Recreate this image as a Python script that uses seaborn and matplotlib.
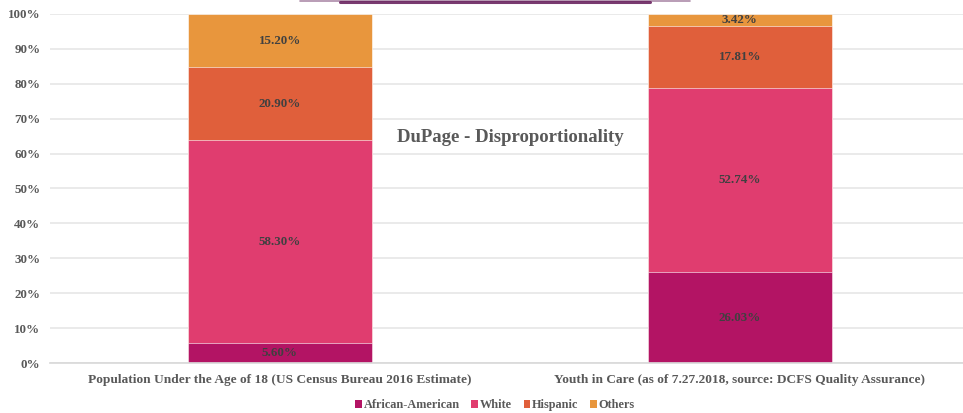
import matplotlib
matplotlib.use("Agg")
import matplotlib.pyplot as plt
import seaborn as sns
import numpy as np
import pandas as pd
from matplotlib.lines import Line2D
from matplotlib.patches import Patch

categories = ["Population Under the Age of 18 (US Census Bureau 2016 Estimate)",
              "Youth in Care (as of 7.27.2018, source: DCFS Quality Assurance)"]
series_names = ["African-American", "White", "Hispanic", "Others"]
african_american = [5.60, 26.03]
white = [58.30, 52.74]
hispanic = [20.90, 17.81]
others = [15.20, 3.42]
colors = ["#B31464", "#E03D6F", "#E05F3B", "#E8963D"]
title = "DuPage - Disproportionality"

sns.set_theme(style="white")
plt.rcParams['font.family'] = ['Liberation Serif', 'DejaVu Serif']

fig = plt.figure(figsize=(9.63, 4.13), dpi=100)
ax = fig.add_axes([50/963, 50/413, 913/963, 349/413])

vals = [african_american, white, hispanic, others]
cum = np.cumsum(np.array(vals), axis=0) / 100.0
# draw from top (largest cumulative) down so each layer shows its segment
for i in range(len(series_names) - 1, -1, -1):
    df = pd.DataFrame({"cat": categories, "top": cum[i]})
    sns.barplot(data=df, x="cat", y="top", color=colors[i], width=0.4,
                saturation=1, ax=ax, edgecolor="white", linewidth=0.4, zorder=2)

# labels
for j in range(len(categories)):
    bottom = 0.0
    for i in range(len(series_names)):
        v = vals[i][j] / 100.0
        ax.text(j, bottom + v / 2, f"{vals[i][j]:.2f}%", ha="center", va="center",
                fontsize=9.4, fontweight="bold", color="#404040", zorder=3)
        bottom += v

ax.set_ylim(0, 1)
ax.set_xlim(-0.5, 1.485)
ax.set_yticks(np.arange(0, 1.01, 0.1))
ax.set_yticklabels([f"{int(round(t*100))}%" for t in np.arange(0, 1.01, 0.1)],
                   fontsize=9.4, fontweight="bold", color="#595959")
ax.set_xticks([0, 1])
ax.set_xticklabels(categories, fontsize=9.6, fontweight="bold", color="#595959")
ax.tick_params(axis="both", length=0)
ax.tick_params(axis="x", pad=8)
ax.tick_params(axis="y", pad=7)
ax.set_xlabel("")
ax.set_ylabel("")
ax.yaxis.grid(True, color="#E6E6E6", linewidth=1.2, zorder=0)
ax.set_axisbelow(True)
for s in ax.spines.values():
    s.set_visible(False)
ax.spines["bottom"].set_visible(True)
ax.spines["bottom"].set_color("#D9D9D9")

ax.text(0.5, 0.645, title, ha="center", va="center", fontsize=13.5,
        fontweight="bold", color="#595959", zorder=4)

handles = [Patch(facecolor=c, edgecolor="none") for c in colors]
fig.legend(handles, series_names, loc="center", bbox_to_anchor=(495/963, 8/413),
           ncol=4, frameon=False, handlelength=0.55, handleheight=0.6,
           columnspacing=0.95, handletextpad=0.15, borderpad=0,
           prop={"weight": "bold", "size": 8.8})
for t in fig.legends[0].get_texts():
    t.set_color("#595959")

# decorative purple arc at top
fig.add_artist(Line2D([300/963, 690/963], [412/413, 412/413], color="#8A5A85",
                      linewidth=1.2, alpha=0.7))
fig.add_artist(Line2D([340/963, 650/963], [411.5/413, 411.5/413], color="#6B2460",
                      linewidth=2.2, alpha=0.9))

fig.savefig("out.png", dpi=100)
